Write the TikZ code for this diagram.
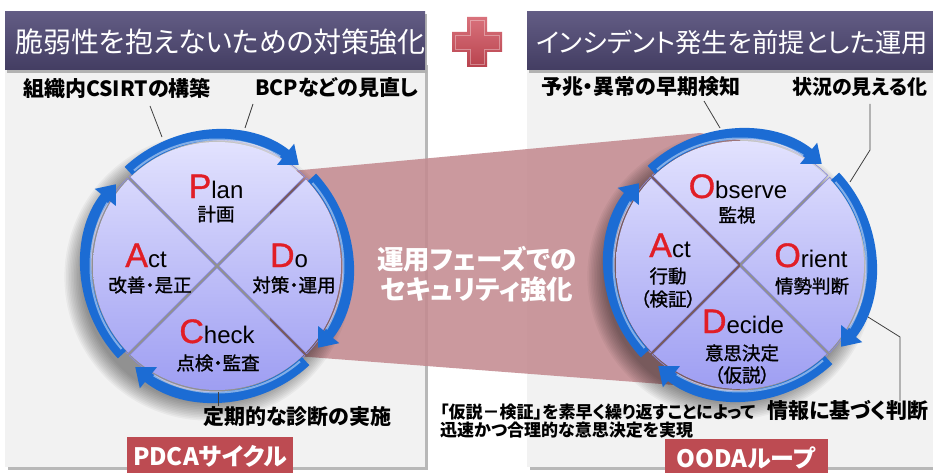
\documentclass[tikz,border=0pt]{standalone}
\usepackage{fontspec}
\setmainfont{Noto Sans CJK JP}[RawFeature=+palt]
\newfontfamily\jpmed{Noto Sans CJK JP}[RawFeature=+palt, FakeBold=1.2]
\newfontfamily\lat{Liberation Sans}
\newfontfamily\latbig{Liberation Sans}[FakeBold=1]
\usetikzlibrary{arrows.meta}
\definecolor{panelgray}{HTML}{F2F2F2}
\definecolor{ttop}{HTML}{625C84}
\definecolor{tbot}{HTML}{433D62}
\definecolor{bandc}{HTML}{C48B91}
\definecolor{ringblue}{HTML}{1C6CD4}
\definecolor{disktop}{HTML}{E2E2FE}
\definecolor{diskbot}{HTML}{9E9EF2}
\definecolor{wedgeedge}{HTML}{8A8AE0}
\definecolor{tagred}{HTML}{BD4B52}
\definecolor{plusT}{HTML}{D9727C}
\definecolor{plusB}{HTML}{B8434E}
\definecolor{leadgray}{HTML}{404040}
\definecolor{bigred}{HTML}{E11E26}
\newcommand\myfs[1]{\fontsize{#1}{#1}\selectfont}
\newcommand\bigL[2]{{\latbig\myfs{34}\color{bigred}#1}{\lat\myfs{24}#2}}
\tikzset{
  leader/.style={draw=leadgray, line width=0.8pt},
  ringarc/.style={line width=11, draw=ringblue, -{Triangle[width=26pt,length=17pt]}},
  ringhl/.style={line width=2, draw=white, opacity=.45},
  titletext/.style={text=white, font=\myfs{28}, inner sep=0pt},
  labeltext/.style={font=\bfseries\myfs{21}, inner sep=0pt},
  circjp/.style={font=\jpmed\myfs{18.5}, inner sep=0pt},
  circlat/.style={inner sep=0pt, anchor=base},
  tagbox/.style={fill=tagred, text=white, font=\bfseries\myfs{24}, inner sep=0pt, minimum height=38pt},
  midtext/.style={text=white, font=\bfseries\myfs{26.5}, align=center, inner sep=0pt},
  notetext/.style={font=\bfseries\fontsize{17}{17.5}\selectfont, align=left, inner sep=0pt},
  wedge/.style={draw=wedgeedge, line width=0.6pt},
  pics/cycdisk/.style={code={
    % soft shadow
    \foreach \i in {0,...,11}{\fill[black,opacity=0.04] (-9,11) circle ({126+1.6*\i});}
    % four quadrants with gaps
    \begin{scope}[shift={(0,-2)}]
      \begin{scope}\clip (0,0) -- (-45:124) arc (-45:-135:124) -- cycle;
        \shade[top color=disktop,bottom color=diskbot] (0,2) circle (124);\end{scope}
      \draw[wedge] (0,0) -- (-45:124) arc (-45:-135:124) -- cycle;
    \end{scope}
    \begin{scope}[shift={(2,0)}]
      \begin{scope}\clip (0,0) -- (45:124) arc (45:-45:124) -- cycle;
        \shade[top color=disktop,bottom color=diskbot] (-2,0) circle (124);\end{scope}
      \draw[wedge] (0,0) -- (45:124) arc (45:-45:124) -- cycle;
    \end{scope}
    \begin{scope}[shift={(0,2)}]
      \begin{scope}\clip (0,0) -- (135:124) arc (135:45:124) -- cycle;
        \shade[top color=disktop,bottom color=diskbot] (0,-2) circle (124);\end{scope}
      \draw[wedge] (0,0) -- (135:124) arc (135:45:124) -- cycle;
    \end{scope}
    \begin{scope}[shift={(-2,0)}]
      \begin{scope}\clip (0,0) -- (-135:124) arc (-135:-225:124) -- cycle;
        \shade[top color=disktop,bottom color=diskbot] (2,0) circle (124);\end{scope}
      \draw[wedge] (0,0) -- (-135:124) arc (-135:-225:124) -- cycle;
    \end{scope}
    % ring arcs (clockwise on the page)
    \draw[ringarc] (-133:130) arc (-133:-51:130);
    \draw[ringarc] (-43:130) arc (-43:39:130);
    \draw[ringarc] (47:130) arc (47:129:130);
    \draw[ringarc] (137:130) arc (137:219:130);
    \draw[ringhl] (-131:126.5) arc (-131:-60:126.5);
    \draw[ringhl] (-41:126.5) arc (-41:30:126.5);
    \draw[ringhl] (49:126.5) arc (49:120:126.5);
    \draw[ringhl] (139:126.5) arc (139:210:126.5);
  }}
}
\begin{document}
\begin{tikzpicture}[x=1pt,y=-1pt]
\useasboundingbox (0,0) rectangle (933,473);
\clip (0,0) rectangle (933,473);
\fill[white] (0,0) rectangle (933,473);
% panels
\fill[black!28] (8,65) rectangle (428,470);
\fill[panelgray] (5,62) rectangle (425,467);
\fill[black!28] (530,65) rectangle (945,470);
\fill[panelgray] (527,62) rectangle (945,467);
% title banners
\fill[black!30] (7,14) rectangle (427,73);
\shade[top color=ttop,bottom color=tbot] (5,12) rectangle (425,70);
\fill[black!30] (529,14) rectangle (945,73);
\shade[top color=ttop,bottom color=tbot] (527,12) rectangle (945,70);
\node[titletext, anchor=west] (t1) at (15,42) {脆弱性を抱えないための対策強化};
\node[titletext, anchor=west, font=\myfs{26.3}] (t2) at (536,42) {インシデント発生を前提とした運用};
% plus sign
\shade[top color=plusT, bottom color=plusB] (467,17) -- (487,17) -- (487,32) -- (502,32) -- (502,52) -- (487,52) -- (487,67) -- (467,67) -- (467,52) -- (452,52) -- (452,32) -- (467,32) -- cycle;
\draw[white, opacity=.35, line width=0.8pt] (470,20) -- (484,20) -- (484,35) -- (499,35) -- (499,49) -- (484,49) -- (484,64) -- (470,64) -- (470,49) -- (455,49) -- (455,35) -- (470,35) -- cycle;
% band
\fill[bandc, opacity=.88] (270,173) -- (700,133) -- (740,140) -- (740,390) -- (270,354) -- cycle;
% cycles
\pic at (217,266) {cycdisk};
\pic at (740,265) {cycdisk};
% PDCA texts
\node[circlat] (plan) at (216,198) {\bigL{P}{lan}};
\node[circjp] (planj) at (216,214) {計画};
\node[circlat] (act1) at (146,267) {\bigL{A}{ct}};
\node[circjp] (act1j) at (150,285) {改善・是正};
\node[circlat] (do) at (289,267) {\bigL{D}{o}};
\node[circjp] (doj) at (294,285) {対策・運用};
\node[circlat] (check) at (217,343) {\bigL{C}{heck}};
\node[circjp] (checkj) at (218,363) {点検・監査};
% OODA texts
\node[circlat] (obs) at (738,198) {\bigL{O}{bserve}};
\node[circjp] (obsj) at (737,215) {監視};
\node[circlat] (act2) at (670,257) {\bigL{A}{ct}};
\node[circjp] (act2j) at (668,276) {行動};
\node[circjp] (act2k) at (668,299) {（検証）};
\node[circlat] (ori) at (811,267) {\bigL{O}{rient}};
\node[circjp] (orij) at (812,286) {情勢判断};
\node[circlat] (dec) at (743,333) {\bigL{D}{ecide}};
\node[circjp] (decj) at (742,353) {意思決定};
\node[circjp] (deck) at (742,375) {（仮説）};
% middle text
\node[midtext] (mid) at (477,274) {運用フェーズでの\\[3pt]セキュリティ強化};
% labels
\node[labeltext, anchor=west] (lab1) at (23,88) {組織内CSIRTの構築};
\node[labeltext, anchor=west] (lab2) at (255,88) {BCPなどの見直し};
\node[labeltext, anchor=west] (lab3) at (203,417) {定期的な診断の実施};
\node[labeltext, anchor=west] (lab4) at (541,87) {予兆・異常の早期検知};
\node[labeltext, anchor=west, font=\bfseries\myfs{20}] (lab5) at (792,87) {状況の見える化};
\node[labeltext, anchor=west] (lab6) at (767,410) {情報に基づく判断};
\node[notetext, anchor=west] (note) at (440,421) {「仮説－検証」を素早く繰り返すことによって\\迅速かつ合理的な意思決定を実現};
% leader lines
\coordinate (l1a) at (150,106); \coordinate (l1b) at (162,137);
\coordinate (l2a) at (253,104); \coordinate (l2b) at (245,128);
\coordinate (l3a) at (218,392); \coordinate (l3b) at (218,406);
\coordinate (r1a) at (704,101); \coordinate (r1b) at (720,128);
\coordinate (r2a) at (870,104); \coordinate (r2m) at (870,150); \coordinate (r2b) at (850,182);
\coordinate (r3a) at (868,317); \coordinate (r3m) at (900,337); \coordinate (r3b) at (900,401);
\draw[leader] (l1a) -- (l1b);
\draw[leader] (l2a) -- (l2b);
\draw[leader] (l3a) -- (l3b);
\draw[leader] (r1a) -- (r1b);
\draw[leader] (r2a) -- (r2m) -- (r2b);
\draw[leader] (r3a) -- (r3m) -- (r3b);
% tags
\node[tagbox, minimum width=166pt] (pdca) at (210,456) {PDCAサイクル};
\node[tagbox, minimum width=163pt] (ooda) at (746,458) {OODAループ};
\end{tikzpicture}
\end{document}
